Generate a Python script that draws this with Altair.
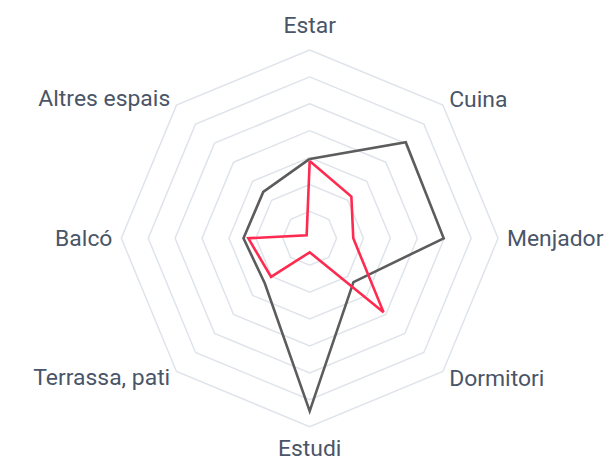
import math
import altair as alt
import pandas as pd

categories = ["Estar", "Cuina", "Menjador", "Dormitori", "Estudi",
              "Terrassa, pati", "Balcó", "Altres espais"]
series_names = ["Sèrie 1", "Sèrie 2"]
series_gray = [2.95, 5.05, 4.98, 2.30, 6.42, 2.36, 2.46, 2.44]
series_red = [2.87, 2.19, 1.62, 3.88, 0.52, 2.03, 2.28, 0.16]
ring_levels = [1, 2, 3, 4, 5, 6, 7]
series_colors = ["#5c5c5c", "#ff2a50"]

n = len(categories)
angles = [2 * math.pi * i / n for i in range(n)]

# grid rings
grid_rows = []
for r in ring_levels:
    for k in range(n + 1):
        a = angles[k % n]
        grid_rows.append({"ring": r, "k": k, "x": r * math.sin(a), "y": r * math.cos(a)})
grid_df = pd.DataFrame(grid_rows)

# series
ser_rows = []
for name, vals in zip(series_names, [series_gray, series_red]):
    for k in range(n + 1):
        a = angles[k % n]
        v = vals[k % n]
        ser_rows.append({"serie": name, "k": k, "cat": categories[k % n], "value": v,
                         "x": v * math.sin(a), "y": v * math.cos(a)})
ser_df = pd.DataFrame(ser_rows)

# labels
label_r = max(ring_levels) + 0.33
lab_rows = []
for i, c in enumerate(categories):
    a = angles[i]
    sx = math.sin(a)
    grp = "top" if i == 0 else ("bottom" if i == n // 2 else ("right" if sx > 0 else "left"))
    lab_rows.append({"label": c, "x": label_r * sx, "y": label_r * math.cos(a), "grp": grp})
lab_df = pd.DataFrame(lab_rows)

xs = alt.Scale(domain=[-11.211, 10.863], nice=False, zero=False)
ys = alt.Scale(domain=[-7.915, 8.530], nice=False, zero=False)
X = alt.X("x:Q", scale=xs, axis=None)
Y = alt.Y("y:Q", scale=ys, axis=None)

grid = alt.Chart(grid_df).mark_line(color="#dfe4eb", strokeWidth=1.5).encode(
    x=X, y=Y, detail="ring:N", order="k:Q")

lines = alt.Chart(ser_df).mark_line(strokeWidth=2.6, strokeJoin="miter").encode(
    x=X, y=Y, order="k:Q",
    color=alt.Color("serie:N", scale=alt.Scale(domain=series_names, range=series_colors), legend=None),
    detail="serie:N")

font = "Roboto"
fs = 23
lc = "#4a5568"
base = alt.Chart(lab_df)
lab_top = base.transform_filter(alt.datum.grp == "top").mark_text(
    font=font, fontSize=fs, color=lc, align="center", baseline="alphabetic", dy=-7.6).encode(x=X, y=Y, text="label:N")
lab_bot = base.transform_filter(alt.datum.grp == "bottom").mark_text(
    font=font, fontSize=fs, color=lc, align="center", baseline="top", dy=3).encode(x=X, y=Y, text="label:N")
lab_right = base.transform_filter(alt.datum.grp == "right").mark_text(
    font=font, fontSize=fs, color=lc, align="left", baseline="middle", dy=1).encode(x=X, y=Y, text="label:N")
lab_left = base.transform_filter(alt.datum.grp == "left").mark_text(
    font=font, fontSize=fs, color=lc, align="right", baseline="middle", dy=0.5).encode(x=X, y=Y, text="label:N")

chart = alt.layer(grid, lines, lab_top, lab_bot, lab_right, lab_left).properties(
    width=596, height=444, padding={"left": 0, "top": 0, "right": 0, "bottom": 8}
).configure_view(stroke=None)

chart.save("out.html", embed_options={"renderer": "svg", "actions": False})
